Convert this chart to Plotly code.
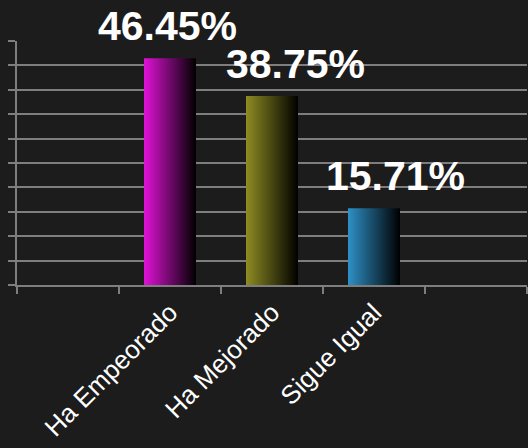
import plotly.graph_objects as go

categories = ["Ha Empeorado", "Ha Mejorado", "Sigue Igual"]
values = [46.45, 38.75, 15.71]
positions = [1, 2, 3]
bar_colors = ["#e012d6", "#8e8c22", "#2e90c6"]
label_texts = [f"{v:.2f}%" for v in values]
label_xshift = [-3, 23, 21]

BAR_W = 0.51
GRID = "#7e7e7e"
BG = "#1c1c1c"

fig = go.Figure()

for pos, val, col, name in zip(positions, values, bar_colors, categories):
    x0, x1 = pos - BAR_W / 2, pos + BAR_W / 2
    fig.add_trace(go.Scatter(
        x=[x0, x1, x1, x0, x0],
        y=[0, 0, val, val, 0],
        mode="lines",
        line=dict(width=0),
        fill="toself",
        fillgradient=dict(type="horizontal",
                          colorscale=[[0, col], [1, "#000000"]]),
        name=name,
        hoverinfo="skip",
        showlegend=False,
    ))

for pos, val, txt, xs in zip(positions, values, label_texts, label_xshift):
    fig.add_annotation(
        x=pos, y=val, text=f"<b>{txt}</b>", showarrow=False,
        yanchor="bottom", yshift=7, xshift=xs,
        font=dict(family="Liberation Sans, Arial, sans-serif", size=41, color="#ffffff"),
    )

fig.update_layout(
    width=528, height=448,
    margin=dict(l=17, r=1, t=41, b=163),
    paper_bgcolor=BG, plot_bgcolor=BG,
    font=dict(family="Liberation Sans, Arial, sans-serif", color="#ffffff"),
    showlegend=False,
)

fig.update_xaxes(
    range=[-0.5, 4.5],
    tickmode="array", tickvals=positions, ticktext=categories,
    ticks="", tickangle=-45,
    tickfont=dict(size=26, color="#ffffff"),
    showgrid=False, zeroline=False,
    showline=True, linecolor=GRID, linewidth=2,
    minor=dict(tickvals=[-0.5, 0.5, 1.5, 2.5, 3.5, 4.5], ticks="outside",
               ticklen=7, tickwidth=2, tickcolor=GRID, showgrid=False),
)

fig.update_yaxes(
    range=[0, 50], dtick=5,
    showticklabels=False,
    ticks="outside", ticklen=7, tickwidth=2, tickcolor=GRID,
    showgrid=True, gridcolor=GRID, gridwidth=2,
    zeroline=False,
    showline=True, linecolor=GRID, linewidth=2,
)

fig.write_html(
    "out.html",
    config={"displayModeBar": False},
    post_script="document.body.style.margin='0';document.body.style.background='#1c1c1c';document.body.style.overflow='hidden';",
)
